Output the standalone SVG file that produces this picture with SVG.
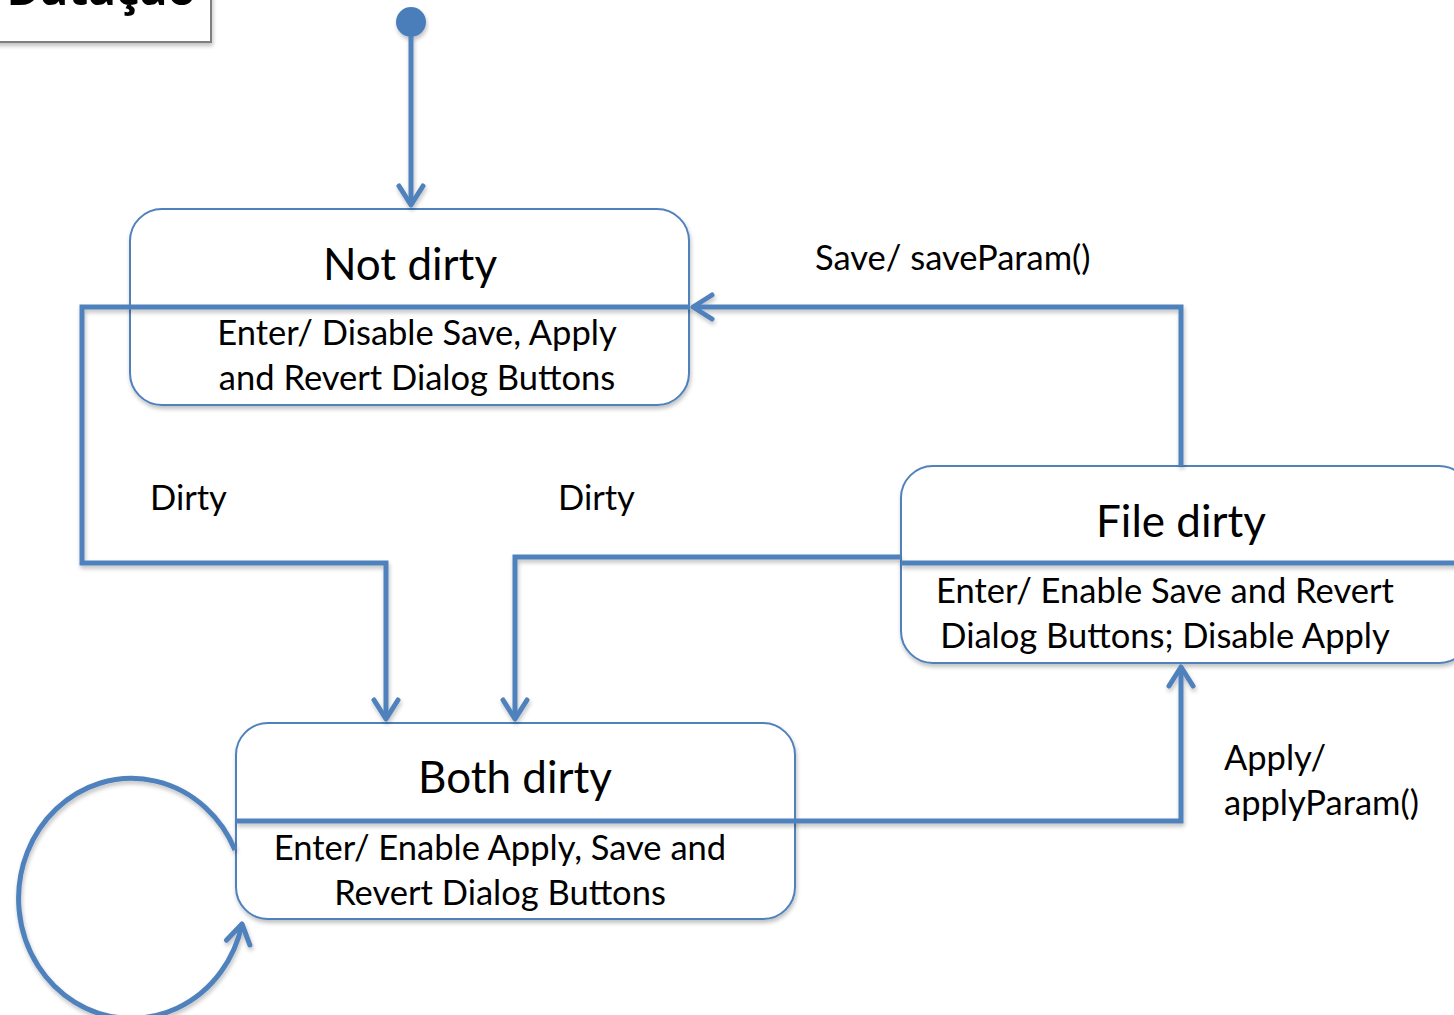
<svg xmlns="http://www.w3.org/2000/svg" width="1454" height="1015" viewBox="0 0 1454 1015">
  <style>
    .state { fill: #ffffff; stroke: #4f81bd; stroke-width: 2; }
    .title { font-family: Lato, "Open Sans", sans-serif; font-size: 44px; fill: #000; text-anchor: middle; }
    .body { font-family: Lato, "Open Sans", sans-serif; font-size: 34.5px; fill: #000; text-anchor: middle; }
    .label { font-family: Lato, "Open Sans", sans-serif; font-size: 34.5px; fill: #000; }
    .wire { fill: none; stroke: #4f81bd; stroke-width: 5; stroke-linejoin: miter; }
    .arrow { fill: none; stroke: #4f81bd; stroke-width: 5; stroke-linecap: round; stroke-linejoin: round; }
  </style>
  <defs>
    <filter id="shadow" x="-10%" y="-10%" width="120%" height="130%">
      <feGaussianBlur in="SourceAlpha" stdDeviation="2"/>
      <feOffset dx="1" dy="3" result="b"/>
      <feComponentTransfer><feFuncA type="linear" slope="0.25"/></feComponentTransfer>
      <feMerge><feMergeNode/><feMergeNode in="SourceGraphic"/></feMerge>
    </filter>
    <marker id="head" viewBox="-24 -16 30 32" markerWidth="30" markerHeight="32" refX="0" refY="0" orient="auto" markerUnits="userSpaceOnUse">
      <path class="arrow" d="M-19,-12 L0,0 L-19,12"/>
    </marker>
  </defs>

  <!-- header box, mostly above the page edge -->
  <g id="header" filter="url(#shadow)">
    <rect x="-4" y="-12" width="215" height="54" fill="#ffffff" stroke="#7f7f7f" stroke-width="2"/>
    <text x="196" y="5" font-family="Open Sans, Lato, sans-serif" font-weight="bold" font-size="46" text-anchor="end" fill="#000">Dataçao</text>
  </g>

  <!-- states -->
  <g id="not-dirty" filter="url(#shadow)">
    <rect class="state" x="130" y="209" width="559" height="196" rx="32"/>
  </g>
  <g id="file-dirty" filter="url(#shadow)">
    <rect class="state" x="901" y="466" width="570" height="197" rx="32"/>
  </g>
  <g id="both-dirty" filter="url(#shadow)">
    <rect class="state" x="236" y="723" width="559" height="196" rx="32"/>
  </g>

  <!-- initial pseudo-state -->
  <g id="initial" filter="url(#shadow)">
    <circle cx="411" cy="22" r="15" fill="#4a7ebb"/>
  </g>

  <!-- transitions -->
  <g id="connectors" filter="url(#shadow)">
    <path class="wire" d="M411,36 V205" marker-end="url(#head)"/>
    <path class="wire" d="M690,307 H82 V563 H386 V719" marker-end="url(#head)"/>
    <path class="wire" d="M901,557 H515 V719" marker-end="url(#head)"/>
    <path class="wire" d="M1181,466 V307 H693" marker-end="url(#head)"/>
    <path class="wire" d="M236,821 H1181 V667" marker-end="url(#head)"/>
    <path class="wire" d="M901,563 H1460"/>
    <path class="wire" d="M235,850 A113 120 0 1 0 242,924" marker-end="url(#head)"/>
  </g>

  <!-- state texts -->
  <g id="not-dirty-text">
    <text class="title" x="410" y="280">Not dirty</text>
    <text class="body" x="417" y="345">Enter/ Disable Save, Apply</text>
    <text class="body" x="417" y="390">and Revert Dialog Buttons</text>
  </g>
  <g id="file-dirty-text">
    <text class="title" x="1181" y="537">File dirty</text>
    <text class="body" x="1165" y="603">Enter/ Enable Save and Revert</text>
    <text class="body" x="1165" y="648">Dialog Buttons; Disable Apply</text>
  </g>
  <g id="both-dirty-text">
    <text class="title" x="515" y="793">Both dirty</text>
    <text class="body" x="500" y="860">Enter/ Enable Apply, Save and</text>
    <text class="body" x="500" y="905">Revert Dialog Buttons</text>
  </g>

  <!-- transition labels -->
  <g id="labels">
    <text class="label" x="815" y="270">Save/ saveParam()</text>
    <text class="label" x="150" y="510">Dirty</text>
    <text class="label" x="558" y="510">Dirty</text>
    <text class="label" x="1224" y="770">Apply/</text>
    <text class="label" x="1224" y="815">applyParam()</text>
  </g>
</svg>
